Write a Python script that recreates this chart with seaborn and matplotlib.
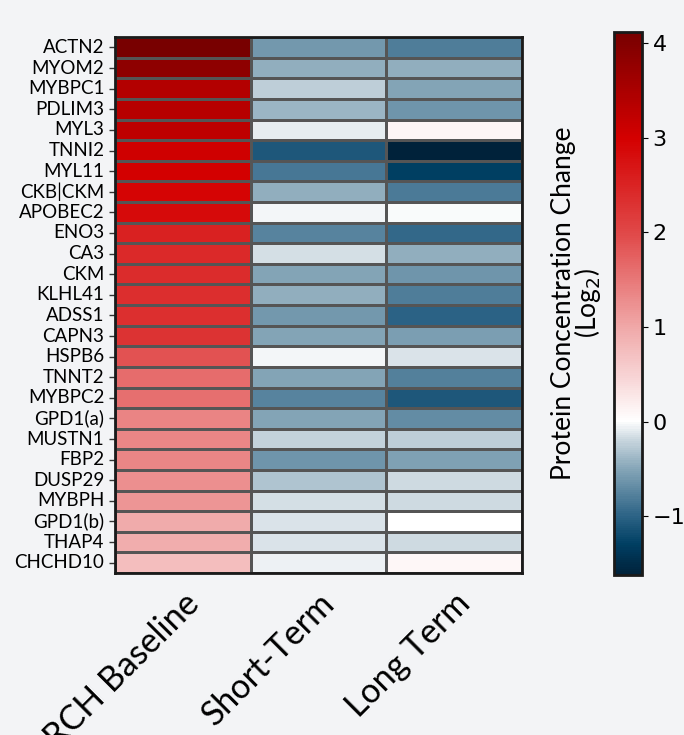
import numpy as np
import pandas as pd
import matplotlib
matplotlib.use('Agg')
import matplotlib.pyplot as plt
import seaborn as sns
from matplotlib.colors import LinearSegmentedColormap

proteins = ['ACTN2', 'MYOM2', 'MYBPC1', 'PDLIM3', 'MYL3', 'TNNI2', 'MYL11',
            'CKB|CKM', 'APOBEC2', 'ENO3', 'CA3', 'CKM', 'KLHL41', 'ADSS1',
            'CAPN3', 'HSPB6', 'TNNT2', 'MYBPC2', 'GPD1(a)', 'MUSTN1', 'FBP2',
            'DUSP29', 'MYBPH', 'GPD1(b)', 'THAP4', 'CHCHD10']
conditions = ['ARCH Baseline', 'Short-Term', 'Long Term']

baseline = [4.12, 3.85, 3.40, 3.35, 3.25, 3.05, 3.00, 2.95, 2.85, 2.55, 2.42,
            2.38, 2.36, 2.34, 2.30, 1.90, 1.62, 1.60, 1.38, 1.36, 1.35, 1.25,
            1.20, 0.98, 0.95, 0.75]
short_term = [-0.60, -0.45, -0.25, -0.40, -0.08, -1.10, -0.85, -0.45, -0.03,
              -0.75, -0.15, -0.50, -0.45, -0.60, -0.52, -0.03, -0.50, -0.75,
              -0.50, -0.22, -0.62, -0.30, -0.15, -0.12, -0.12, -0.06]
long_term = [-0.80, -0.45, -0.52, -0.62, 0.12, -1.62, -1.30, -0.82, -0.01,
             -0.95, -0.45, -0.62, -0.80, -1.00, -0.56, -0.12, -0.78, -1.10,
             -0.70, -0.25, -0.54, -0.18, -0.18, 0.00, -0.18, 0.10]

df = pd.DataFrame({conditions[0]: baseline,
                   conditions[1]: short_term,
                   conditions[2]: long_term}, index=proteins)

vmin, vmax = df.values.min(), df.values.max()

# custom blue - white - red map, white sitting at zero
nodes = [(-1.62, '#00223a'), (-1.3, '#003f63'), (-1.0, '#2d6486'),
         (-0.5, '#86a6b8'), (-0.2, '#c8d6de'), (0.0, '#ffffff'),
         (0.5, '#f7d2d3'), (1.0, '#f0a8a8'), (2.0, '#e04848'),
         (3.0, '#d40000'), (4.12, '#780000')]
cmap = LinearSegmentedColormap.from_list(
    'protein', [((v - vmin) / (vmax - vmin), c) for v, c in nodes])

bg = '#f3f4f6'
fig = plt.figure(figsize=(6.84, 7.35), dpi=100, facecolor=bg)
ax = fig.add_axes([0.168, 0.2204, 0.595, 0.729])
cax = fig.add_axes([0.898, 0.2177, 0.041, 0.739])

sns.heatmap(df, ax=ax, cbar_ax=cax, cmap=cmap, vmin=vmin, vmax=vmax,
            linewidths=1, linecolor='#555555')

for s in ax.spines.values():
    s.set_visible(True)
    s.set_color('#1a1a1a')
    s.set_linewidth(2)

ax.tick_params(axis='y', length=4, width=1, color='#333333')
ax.tick_params(axis='x', length=0, pad=10)
ax.set_yticklabels(proteins, rotation=0, fontsize=13.5, family='Lato')
ax.set_xticklabels(conditions, rotation=45, ha='right',
                   rotation_mode='anchor', fontsize=24.5, family='Lato')

cbar = ax.collections[0].colorbar
cbar.outline.set_edgecolor('#1a1a1a')
cbar.outline.set_linewidth(2)
cbar.set_ticks([-1, 0, 1, 2, 3, 4])
cbar.ax.tick_params(labelsize=16, length=4)
cbar.ax.yaxis.set_label_position('left')
cbar.set_label('Protein Concentration Change\n(Log$_2$)', fontsize=19,
               family='Lato', labelpad=8, linespacing=0.85)

fig.savefig('out.png', dpi=100, facecolor=bg)
